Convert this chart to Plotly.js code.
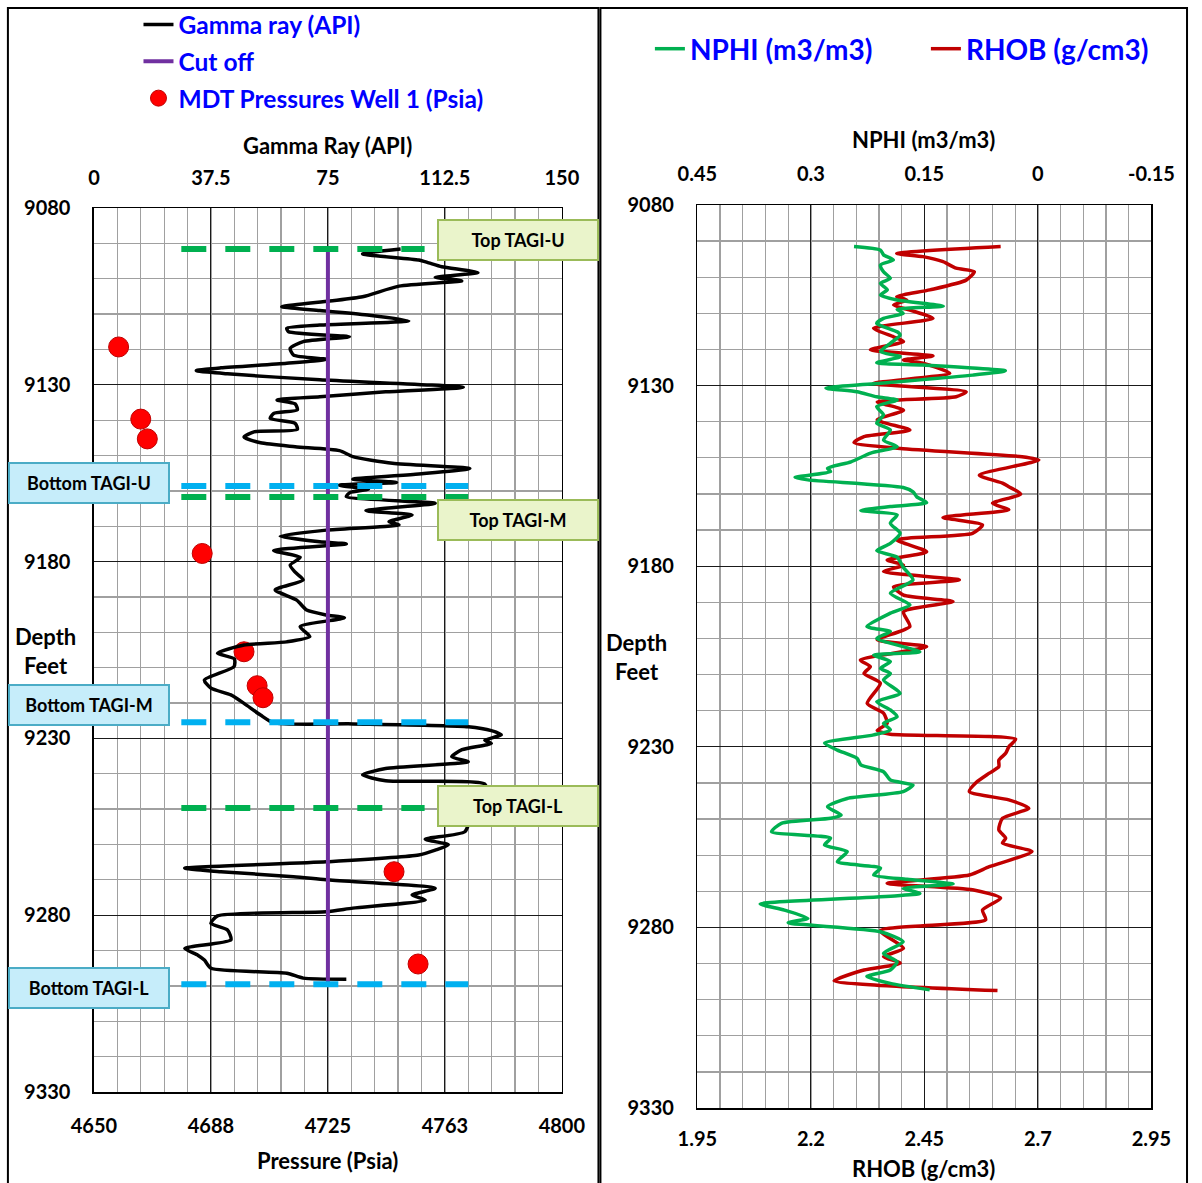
<!DOCTYPE html>
<html>
<head>
<meta charset="utf-8">
<script src="https://cdn.plot.ly/plotly-3.0.1.min.js"></script>
<style>html,body{margin:0;padding:0;background:#fff;overflow:hidden;width:1202px;height:1183px;}#chart{width:1202px;height:1183px;overflow:hidden;}</style>
</head>
<body>
<div id="chart"></div>
<script>
// ---------------- DATA ----------------
// Gamma ray log (depth in feet, GR in API)
const grDepth = [9091.6,9093.0,9094.7,9095.5,9096.6,9098.3,9099.6,9100.6,9102.1,9105.1,9106.3,9107.9,9109.0,9110.3,9111.9,9113.1,9114.0,9115.0,9116.4,9117.8,9119.7,9121.6,9122.8,9123.9,9125.2,9126.0,9126.9,9128.6,9130.7,9132.0,9133.4,9134.3,9135.4,9137.1,9138.1,9139.5,9140.9,9142.6,9143.3,9144.8,9146.4,9147.5,9148.6,9150.3,9152.2,9153.7,9155.2,9156.7,9157.6,9158.4,9159.5,9160.5,9161.6,9163.5,9165.6,9166.8,9168.7,9169.6,9171.1,9172.8,9174.4,9175.0,9176.9,9178.8,9181.0,9183.0,9185.2,9188.0,9190.9,9193.7,9195.1,9195.9,9198.4,9201.2,9202.7,9203.6,9205.9,9207.5,9209.7,9213.5,9215.8,9217.7,9220.1,9223.4,9225.6,9225.9,9226.7,9227.8,9229.0,9230.5,9231.4,9233.2,9235.2,9236.6,9238.5,9240.3,9242.0,9242.9,9246.0,9252.0,9256.4,9258.5,9260.1,9261.6,9263.0,9264.9,9266.7,9267.7,9269.1,9270.0,9272.4,9274.3,9275.7,9278.0,9279.0,9280.2,9282.3,9284.2,9287.0,9289.4,9291.3,9292.7,9295.0,9296.4,9297.8,9298.1];
const grValue = [98.3,86.1,104.1,107.3,111.5,123.1,109.4,117.9,97.8,86.1,75.6,60.2,72.4,88.3,100.9,72.4,61.8,62.4,81.9,67.1,62.9,64.0,74.5,61.8,40.7,32.8,42.8,72.4,118.4,93.5,72.4,58.7,64.5,65.2,57.6,56.5,64.5,65.2,51.3,48.1,53.4,64.5,78.7,83.0,95.7,120.5,104.1,83.0,97.0,78.6,88.0,82.0,80.9,109.4,87.2,102.0,94.6,97.8,74.5,59.7,72.4,80.9,57.6,66.1,62.9,64.5,67.1,58.1,65.0,68.2,74.5,80.3,66.1,69.2,61.8,48.1,39.6,45.0,44.9,35.4,37.5,43.9,48.1,53.4,57.6,83.0,120.0,127.4,130.6,125.3,127.4,118.0,114.7,120.0,93.5,86.1,93.5,125.3,126.0,121.0,118.9,106.2,113.6,109.4,104.1,74.5,29.1,40.7,64.0,74.5,109.4,102.0,106.2,83.0,74.5,39.6,37.5,42.8,43.9,29.1,33.3,35.4,37.5,61.8,67.1,80.9];

// MDT pressures, well 1
const mdtPressure = [4657.9,4665.0,4667.1,4684.7,4698.1,4702.3,4704.2,4746.2,4753.9];
const mdtDepth    = [9119.3,9139.7,9145.3,9177.7,9205.5,9215.1,9218.5,9267.7,9293.8];

// Gamma ray cut off
const cutoffGR = 75;

// Formation tops / bottoms (feet)
const zoneNames    = ['TAGI-U','TAGI-M','TAGI-L'];
const topDepths    = [9091.6, 9161.7, 9249.7];
const bottomDepths = [9158.6, 9225.4, 9299.5];

// Neutron porosity log
const nphiDepth = [9091.5,9092.5,9093.8,9095.2,9096.6,9098.5,9100.3,9101.7,9103.5,9104.9,9106.3,9108.0,9108.9,9110.0,9111.4,9112.8,9115.1,9116.0,9118.3,9120.6,9122.0,9123.7,9124.3,9125.9,9127.1,9129.4,9130.7,9131.7,9133.1,9134.0,9135.8,9138.1,9140.4,9142.3,9145.1,9146.9,9148.7,9151.1,9152.9,9153.8,9155.4,9156.1,9158.2,9159.4,9160.8,9162.4,9163.5,9164.6,9165.8,9168.1,9170.9,9173.7,9175.7,9177.5,9180.3,9183.8,9187.5,9190.7,9193.0,9196.7,9198.1,9200.0,9203.7,9204.6,9206.4,9208.3,9209.7,9211.5,9215.2,9217.5,9219.8,9221.7,9223.5,9225.3,9226.7,9229.0,9230.9,9233.2,9235.0,9236.9,9239.2,9240.6,9242.4,9244.3,9246.6,9248.9,9249.8,9251.2,9253.5,9255.3,9257.2,9259.0,9261.8,9263.6,9265.5,9266.7,9268.0,9269.2,9270.6,9273.5,9275.2,9277.5,9278.7,9281.2,9284.0,9287.2,9289.5,9291.8,9293.6,9295.5,9297.3];
const nphiValue = [0.243,0.208,0.204,0.191,0.208,0.204,0.195,0.208,0.199,0.208,0.186,0.125,0.186,0.178,0.204,0.213,0.186,0.182,0.195,0.208,0.182,0.213,0.152,0.043,0.086,0.213,0.280,0.239,0.213,0.186,0.213,0.204,0.213,0.195,0.204,0.186,0.221,0.247,0.278,0.274,0.321,0.304,0.178,0.165,0.160,0.147,0.195,0.234,0.186,0.195,0.182,0.195,0.213,0.186,0.178,0.165,0.195,0.169,0.195,0.226,0.195,0.213,0.156,0.217,0.195,0.208,0.195,0.204,0.182,0.213,0.195,0.186,0.204,0.195,0.217,0.282,0.265,0.239,0.234,0.204,0.195,0.165,0.178,0.252,0.278,0.260,0.274,0.339,0.352,0.274,0.282,0.252,0.265,0.208,0.217,0.173,0.112,0.178,0.156,0.367,0.335,0.304,0.330,0.208,0.178,0.204,0.186,0.195,0.226,0.195,0.143];

// Bulk density log
const rhobDepth = [9091.5,9093.4,9094.3,9095.7,9097.5,9098.5,9100.8,9103.5,9105.4,9106.3,9107.7,9109.1,9111.4,9114.1,9116.5,9117.8,9120.1,9121.8,9122.9,9123.8,9126.6,9129.4,9131.7,9133.1,9134.5,9136.8,9139.5,9142.3,9144.1,9145.8,9147.4,9149.7,9150.6,9154.8,9157.0,9158.0,9160.0,9162.6,9164.4,9166.5,9168.6,9170.9,9172.7,9176.0,9178.3,9179.7,9181.5,9183.8,9185.7,9188.0,9189.8,9192.6,9196.7,9200.4,9202.3,9206.0,9207.8,9209.7,9212.4,9218.0,9220.7,9223.5,9225.5,9226.5,9227.9,9230.0,9231.8,9233.7,9235.5,9237.3,9239.9,9242.4,9244.7,9247.0,9249.8,9253.0,9255.3,9256.7,9259.0,9263.2,9265.5,9267.8,9269.6,9271.9,9275.2,9277.9,9280.9,9285.8,9288.1,9289.9,9291.8,9294.8,9296.0,9297.5];
const rhobValue = [2.618,2.389,2.447,2.491,2.520,2.560,2.542,2.462,2.389,2.411,2.382,2.418,2.469,2.338,2.382,2.404,2.331,2.469,2.404,2.447,2.506,2.338,2.542,2.520,2.346,2.404,2.346,2.418,2.317,2.295,2.397,2.665,2.702,2.571,2.622,2.636,2.662,2.600,2.636,2.491,2.578,2.556,2.389,2.455,2.368,2.404,2.360,2.527,2.382,2.404,2.513,2.404,2.418,2.346,2.455,2.309,2.331,2.317,2.353,2.324,2.360,2.368,2.346,2.375,2.651,2.636,2.629,2.614,2.614,2.593,2.564,2.549,2.636,2.680,2.622,2.614,2.629,2.622,2.687,2.593,2.549,2.368,2.556,2.618,2.578,2.585,2.353,2.404,2.360,2.397,2.317,2.251,2.346,2.611];

// Axis ticks
const depthTicks    = [9080,9130,9180,9230,9280,9330];
const grTicks       = [0,37.5,75,112.5,150];
const pressureTicks = [4650,4687.5,4725,4762.5,4800];
const pressureText  = ['4650','4688','4725','4763','4800'];
const nphiTicks     = [0.45,0.3,0.15,0,-0.15];
const nphiText      = ['0.45','0.3','0.15','0','-0.15'];
const rhobTicks     = [1.95,2.2,2.45,2.7,2.95];

// ---------------- LAYOUT HELPERS ----------------
const W = 1202, H = 1183;
const px = v => v / W;
const py = v => 1 - v / H;
const FONT = 'Lato, "Open Sans", sans-serif';
const tickFont = {family: FONT, size: 20, color: '#000', weight: 'bold'};
const MAJ = '#1a1a1a', MIN = '#a0a0a0';

const traces = [];
// Gamma ray
traces.push({x: grValue, y: grDepth, xaxis: 'x2', yaxis: 'y', type: 'scatter', mode: 'lines',
  name: 'Gamma ray (API)', legend: 'legend', legendgroup: 'g1',
  line: {color: '#000', width: 3.5, shape: 'spline', smoothing: 0.6}});
// Cut off
traces.push({x: [cutoffGR, cutoffGR], y: [topDepths[0], bottomDepths[2]], xaxis: 'x2', yaxis: 'y',
  type: 'scatter', mode: 'lines', name: 'Cut off', legend: 'legend', legendgroup: 'g2',
  line: {color: '#7030A0', width: 4}});
// Zone top/bottom dashed markers
topDepths.forEach((d, i) => {
  const xEnd = (i === 1) ? 120 : 106;
  traces.push({x: [28, xEnd], y: [d, d], xaxis: 'x2', yaxis: 'y', type: 'scatter', mode: 'lines',
    showlegend: false, hoverinfo: 'skip', name: 'Top ' + zoneNames[i],
    line: {color: '#00B050', width: 6, dash: '25px,19px'}});
});
bottomDepths.forEach((d, i) => {
  traces.push({x: [28, 120], y: [d, d], xaxis: 'x2', yaxis: 'y', type: 'scatter', mode: 'lines',
    showlegend: false, hoverinfo: 'skip', name: 'Bottom ' + zoneNames[i],
    line: {color: '#00B0F0', width: 6, dash: '25px,19px'}});
});
// MDT pressures
traces.push({x: mdtPressure, y: mdtDepth, xaxis: 'x', yaxis: 'y', type: 'scatter', mode: 'markers',
  name: 'MDT Pressures Well 1 (Psia)', legend: 'legend', legendgroup: 'g3',
  marker: {color: '#FF0000', size: 20, line: {color: '#C00000', width: 1}}});
// NPHI
traces.push({x: nphiValue, y: nphiDepth, xaxis: 'x4', yaxis: 'y2', type: 'scatter', mode: 'lines',
  name: 'NPHI (m3/m3)', legend: 'legend2',
  line: {color: '#00B050', width: 3.5, shape: 'spline', smoothing: 0.6}});
// RHOB
traces.push({x: rhobValue, y: rhobDepth, xaxis: 'x3', yaxis: 'y2', type: 'scatter', mode: 'lines',
  name: 'RHOB (g/cm3)', legend: 'legend2',
  line: {color: '#C00000', width: 3.5, shape: 'spline', smoothing: 0.6}});

function depthAxis(domain, anchor) {
  return {domain: domain, anchor: anchor, range: [9330, 9080], autorange: false,
    tickmode: 'array', tickvals: depthTicks, ticks: '', ticklabelstandoff: 18,
    tickfont: tickFont, showgrid: true, gridcolor: MAJ, gridwidth: 1,
    minor: {tickmode: 'linear', tick0: 9080, dtick: 10, showgrid: true, gridcolor: MIN, gridwidth: 1.3},
    showline: true, mirror: true, linecolor: '#000', linewidth: 1.5, zeroline: false, fixedrange: true};
}

const layout = {
  width: W, height: H, margin: {l: 0, r: 0, t: 0, b: 0},
  paper_bgcolor: '#fff', plot_bgcolor: '#fff',
  font: {family: FONT, color: '#000'},
  showlegend: true,
  xaxis: {domain: [px(95), px(568)], anchor: 'y', side: 'bottom', range: [4650, 4800], autorange: false,
    tickmode: 'array', tickvals: pressureTicks, ticktext: pressureText, ticks: '', ticklabelstandoff: 15,
    tickfont: tickFont, showgrid: true, gridcolor: MAJ, gridwidth: 1,
    minor: {tickmode: 'linear', tick0: 4650, dtick: 7.5, showgrid: true, gridcolor: MIN, gridwidth: 1.3},
    showline: true, mirror: true, linecolor: '#000', linewidth: 1.5, zeroline: false, fixedrange: true},
  xaxis2: {overlaying: 'x', anchor: 'y', side: 'top', range: [0, 150], autorange: false,
    tickmode: 'array', tickvals: grTicks, ticks: '', ticklabelstandoff: 18, tickfont: tickFont,
    showgrid: false, zeroline: false, fixedrange: true},
  yaxis: depthAxis([py(1092), py(208)], 'x'),
  xaxis3: {domain: [px(705), px(1164)], anchor: 'y2', side: 'bottom', range: [1.95, 2.95], autorange: false,
    tickmode: 'array', tickvals: rhobTicks, ticks: '', ticklabelstandoff: 12,
    tickfont: tickFont, showgrid: true, gridcolor: MAJ, gridwidth: 1,
    minor: {tickmode: 'linear', tick0: 1.95, dtick: 0.05, showgrid: true, gridcolor: MIN, gridwidth: 1.3},
    showline: true, mirror: true, linecolor: '#000', linewidth: 1.5, zeroline: false, fixedrange: true},
  xaxis4: {overlaying: 'x3', anchor: 'y2', side: 'top', range: [0.45, -0.15], autorange: false,
    tickmode: 'array', tickvals: nphiTicks, ticktext: nphiText, ticks: '', ticklabelstandoff: 19, tickfont: tickFont,
    showgrid: false, zeroline: false, fixedrange: true},
  yaxis2: depthAxis([py(1108), py(205)], 'x3'),
  legend: {x: px(140), y: py(2), xanchor: 'left', yanchor: 'top', bgcolor: 'rgba(0,0,0,0)',
    traceorder: 'grouped', tracegroupgap: 2,
    font: {family: FONT, size: 24.5, color: '#0000FF', weight: 'bold'}},
  legend2: {x: px(657), y: py(24), xanchor: 'left', yanchor: 'top', orientation: 'h', bgcolor: 'rgba(0,0,0,0)',
    entrywidth: 231, entrywidthmode: 'pixels',
    font: {family: FONT, size: 28, color: '#0000FF', weight: 'bold'}},
  shapes: [
    {type: 'rect', xref: 'paper', yref: 'paper', x0: px(8), x1: px(605), y0: py(1190), y1: py(8),
      line: {color: '#000', width: 2}, layer: 'below'},
    {type: 'rect', xref: 'paper', yref: 'paper', x0: px(607), x1: px(1200), y0: py(1190), y1: py(8),
      line: {color: '#000', width: 2}, layer: 'below'}
  ],
  annotations: []
};

const titleFont = {family: FONT, size: 22, color: '#000', weight: 'bold'};
function label(text, x, y, font) {
  layout.annotations.push({text: text, x: px(x), y: py(y), xref: 'paper', yref: 'paper',
    showarrow: false, xanchor: 'center', yanchor: 'middle', font: font || titleFont});
}
label('Gamma Ray (API)', 331, 145);
label('Pressure (Psia)', 331, 1160);
label('NPHI (m3/m3)', 934, 140);
label('RHOB (g/cm3)', 934, 1168);
label('Depth<br>Feet', 46, 651);
label('Depth<br>Feet', 643, 657);

function box(text, cx, cy, green) {
  layout.annotations.push({text: text, x: px(cx), y: py(cy), xref: 'paper', yref: 'paper',
    showarrow: false, xanchor: 'center', yanchor: 'middle', width: 156, height: 36,
    bgcolor: green ? '#EAF4CB' : '#C6EDFA', bordercolor: green ? '#9BBB59' : '#4BACC6', borderwidth: 2,
    font: {family: FONT, size: 18, color: '#000', weight: 'bold'}});
}
box('Top ' + zoneNames[0], 524, 240, true);
box('Top ' + zoneNames[1], 524, 520, true);
box('Top ' + zoneNames[2], 524, 806, true);
box('Bottom ' + zoneNames[0], 90, 483, false);
box('Bottom ' + zoneNames[1], 90, 705, false);
box('Bottom ' + zoneNames[2], 90, 988, false);

Plotly.newPlot('chart', traces, layout, {displayModeBar: false, staticPlot: true});
</script>
</body>
</html>
